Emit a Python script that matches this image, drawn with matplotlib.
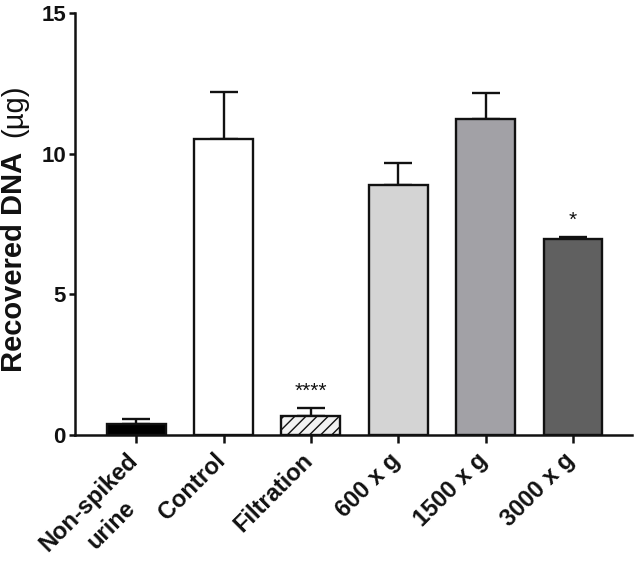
import matplotlib
matplotlib.use('Agg')
import matplotlib.pyplot as plt
from matplotlib.transforms import ScaledTranslation

# data
groups = ['Non-spiked', 'Control', 'Filtration', '600 x g', '1500 x g', '3000 x g']
second_line = ['urine', '', '', '', '', '']
means = [0.39, 10.52, 0.68, 8.89, 11.22, 6.96]
errs = [0.17, 1.68, 0.28, 0.78, 0.94, 0.09]
stars = ['', '', '****', '', '', '*']
star_y = [0, 0, 1.36, 0, 0, 7.42]
fills = ['#000000', '#ffffff', '#f2f2f2', '#d4d4d4', '#a2a1a6', '#606060']
hatches = ['', '', '///', '', '', '']

plt.rcParams['font.family'] = ['Liberation Sans', 'DejaVu Sans']
plt.rcParams['hatch.linewidth'] = 1.0
plt.rcParams['hatch.color'] = '#3a3a3a'

fig = plt.figure(figsize=(6.37, 5.61), dpi=100)
ax = fig.add_axes([0.1177, 0.2246, 0.8744, 0.7522])

x = list(range(len(groups)))
for i in x:
    ax.bar(i, means[i], width=0.675, color=fills[i], edgecolor='#111111',
           linewidth=1.7, hatch=hatches[i], zorder=2)
    ax.errorbar(i, means[i], yerr=[[0], [errs[i]]], fmt='none', ecolor='#111111',
                elinewidth=1.7, capsize=10, capthick=1.7, zorder=1)
    if stars[i]:
        ax.text(i, star_y[i], stars[i], ha='center', va='baseline', fontsize=15,
                color='#111111')

ax.set_xlim(-0.70, 5.675)
ax.set_ylim(0, 15)
ax.set_yticks([0, 5, 10, 15])
ax.set_xticks(x)
ax.set_xticklabels([])

# category labels drawn as texts so they can be nudged like the original
lab_tr = ax.get_xaxis_transform() + ScaledTranslation(-10 / 100, -14 / 100, fig.dpi_scale_trans)
# second line sits centred under the first one (offset in points along the 45° axes)
line2_tr = lab_tr + ScaledTranslation(-16.5 / 72, -49 / 72, fig.dpi_scale_trans)
for i in x:
    ax.text(i, 0, groups[i], transform=lab_tr, rotation=45, ha='right', va='top',
            rotation_mode='anchor', fontsize=17, fontweight='bold', color='#111111')
    if second_line[i]:
        ax.text(i, 0, second_line[i], transform=line2_tr, rotation=45, ha='center',
                va='top', rotation_mode='anchor', fontsize=17, fontweight='bold',
                color='#111111')

for lbl in ax.get_yticklabels():
    lbl.set_fontsize(16)
    lbl.set_fontweight('bold')

# y label: bold name, lighter unit
t1 = fig.text(14 / 637, 1 - 372 / 561, 'Recovered DNA', rotation=90, ha='center',
              va='bottom', fontsize=21, fontweight='bold', color='#111111')
ax.annotate('(µg)', xy=(0.5, 1), xycoords=t1, xytext=(0, 11), textcoords='offset points',
            rotation=90, ha='center', va='bottom', fontsize=21, color='#111111',
            annotation_clip=False)

for side in ['top', 'right']:
    ax.spines[side].set_visible(False)
for side in ['left', 'bottom']:
    ax.spines[side].set_linewidth(1.8)
    ax.spines[side].set_color('#111111')
ax.tick_params(axis='x', direction='out', length=6, width=1.8, colors='#111111')
ax.tick_params(axis='y', direction='out', length=4.5, width=1.8, colors='#111111', pad=2)

fig.savefig('out.png', dpi=100, facecolor='white')
